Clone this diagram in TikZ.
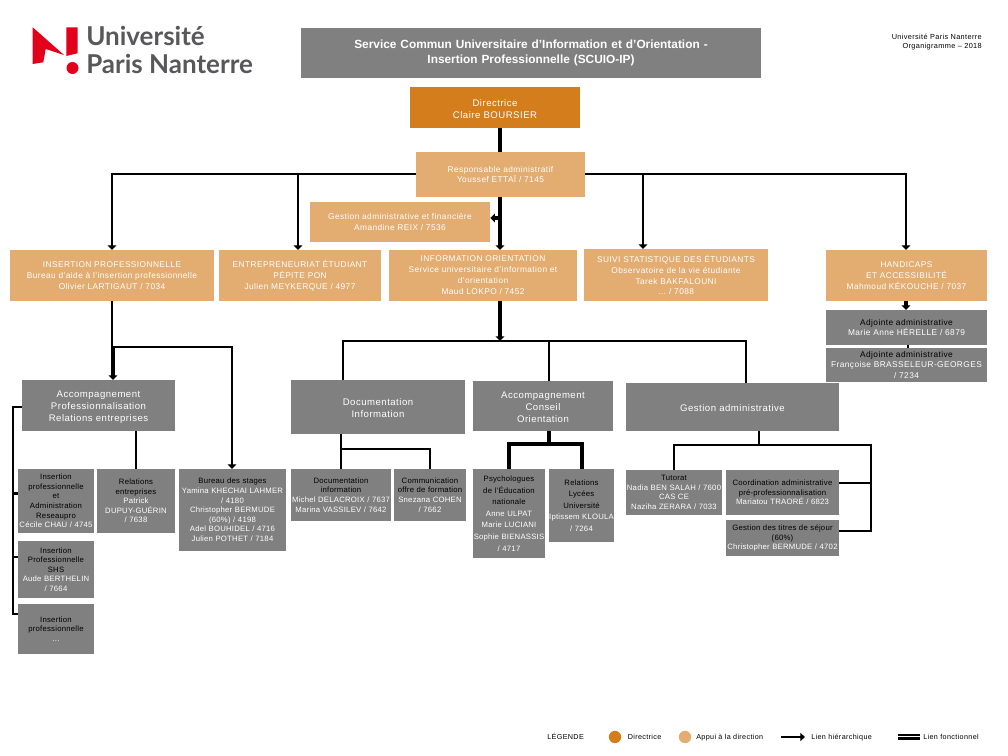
\documentclass[tikz,border=0pt]{standalone}
\usepackage{fontspec}
\setmainfont{Liberation Sans}
\newfontfamily\logofont{Lato}
\newfontfamily\espace[LetterSpace=5]{Liberation Sans}
\newfontfamily\espetit[LetterSpace=3]{Liberation Sans}
\usetikzlibrary{arrows.meta}
\definecolor{gris}{HTML}{808080}
\definecolor{orfonce}{HTML}{D37D1C}
\definecolor{orclair}{HTML}{E3AC70}
\definecolor{rouge}{HTML}{E2001A}
\definecolor{logogris}{HTML}{58585A}
\newcommand{\nr}[1]{\textcolor{black}{#1}}
\tikzset{
  x=0.75pt,y=-0.75pt,
  boxn/.style={draw=none,align=center,inner sep=0pt,font=\espace\fontsize{6.25}{8.2}\selectfont,text=white},
  grisbox/.style={boxn,fill=gris},
  clairbox/.style={boxn,fill=orclair},
  fonbox/.style={boxn,fill=orfonce},
  smalltext/.style={font=\espetit\fontsize{5.8}{7.2}\selectfont},
  spacedtext/.style={font=\espetit\fontsize{5.8}{8.7}\selectfont},
  midtext/.style={font=\espace\fontsize{7.2}{9}\selectfont,execute at begin node={\rule{0pt}{7.4pt}}},
  lien/.style={draw=black,line width=1.7pt,line cap=butt,line join=miter},
  lienfort/.style={draw=black,line width=2.5pt},
  fleche/.style={lien,-{Triangle[length=3.5pt,width=6.5pt]}},
  flechefort/.style={lienfort,-{Triangle[length=3.5pt,width=6.5pt]}},
  legendtext/.style={inner sep=0pt,anchor=base west,font=\espace\fontsize{5.4}{6}\selectfont,text=black},
}
\newcommand{\boxat}[7]{% name,x1,y1,x2,y2,style,text
  \pgfmathsetmacro{\bcx}{(#2+#4)/2}\pgfmathsetmacro{\bcy}{(#3+#5)/2}
  \pgfmathsetmacro{\bw}{(#4-#2)*0.75}\pgfmathsetmacro{\bh}{(#5-#3)*0.75}
  \node[#6,minimum width=\bw pt,minimum height=\bh pt,text width=\bw pt] (#1) at (\bcx,\bcy) {#7};
}
\begin{document}
\begin{tikzpicture}
\useasboundingbox (0,0) rectangle (1008,756);
% logo
\fill[rouge] (32.7,27.3) -- (64,55) -- (45.7,49) -- (43.3,62.3) -- (32.7,64) -- cycle;
\fill[rouge] (66.3,27.3) -- (77.5,27.3) -- (77.5,53.3) -- (66.3,56) -- cycle;
\fill[rouge] (72.5,68) circle (6);
\node[inner sep=0pt,anchor=base west,text=logogris,font=\logofont\bfseries\fontsize{19.5}{19.5}\selectfont] (logoa) at (86,46) {Université};
\node[inner sep=0pt,anchor=base west,text=logogris,font=\logofont\bfseries\fontsize{19.5}{19.5}\selectfont] (logob) at (86,74) {Paris Nanterre};
% top right
\node[inner sep=0pt,anchor=north east,align=right,font=\espace\fontsize{5.5}{6.9}\selectfont] (entete) at (982,34) {Université Paris Nanterre\\Organigramme – 2018};
% boxes
\boxat{titre}{301}{28}{761}{78}{grisbox,font=\bfseries\fontsize{8.9}{11.3}\selectfont}{Service Commun Universitaire d’Information et d’Orientation -\\Insertion Professionnelle (SCUIO-IP)}
\boxat{dir}{410}{87}{580}{128}{fonbox,midtext}{Directrice\\Claire BOURSIER}
\boxat{resp}{416}{152}{585}{197}{clairbox}{Responsable administratif\\Youssef ETTAÏ / 7145}
\boxat{gest}{310}{202}{490}{242}{clairbox}{Gestion administrative et financière\\Amandine REIX / 7536}
\boxat{ins}{10}{250}{214}{301}{clairbox}{INSERTION PROFESSIONNELLE\\Bureau d’aide à l’insertion professionnelle\\Olivier LARTIGAUT / 7034}
\boxat{ent}{219}{250}{381}{301}{clairbox}{ENTREPRENEURIAT ÉTUDIANT\\PÉPITE PON\\Julien MEYKERQUE / 4977}
\boxat{inf}{389}{250}{577}{301}{clairbox}{INFORMATION ORIENTATION\\Service universitaire d’information et\\d’orientation\\Maud LOKPO / 7452}
\boxat{sui}{584}{249}{768}{301}{clairbox}{SUIVI STATISTIQUE DES ÉTUDIANTS\\Observatoire de la vie étudiante\\Tarek BAKFALOUNI\\… / 7088}
\boxat{han}{826}{250}{987}{301}{clairbox}{HANDICAPS\\ET ACCESSIBILITÉ\\Mahmoud KÉKOUCHE / 7037}
\boxat{adja}{826}{310}{987}{345}{grisbox}{\nr{Adjointe administrative}\\Marie Anne HÉRELLE / 6879}
\boxat{adjb}{826}{348}{987}{382}{grisbox}{\nr{Adjointe administrative}\\Françoise BRASSELEUR-GEORGES\\/ 7234}
\boxat{acca}{22}{380}{175}{431}{grisbox,midtext}{Accompagnement\\Professionnalisation\\Relations entreprises}
\boxat{doc}{291}{380}{465}{434}{grisbox,midtext}{Documentation\\Information}
\boxat{accb}{473}{381}{613}{431}{grisbox,midtext}{Accompagnement\\Conseil\\Orientation}
\boxat{gad}{626}{383}{839}{431}{grisbox,midtext}{Gestion administrative}
\boxat{insa}{18}{469}{94}{533}{grisbox,smalltext}{\nr{Insertion}\\\nr{professionnelle}\\\nr{et}\\\nr{Administration}\\\nr{Reseaupro}\\Cécile CHAU / 4745}
\boxat{rel}{97}{469}{175}{533}{grisbox,smalltext}{\nr{Relations}\\\nr{entreprises}\\Patrick\\DUPUY-GUÉRIN\\/ 7638}
\boxat{bur}{179}{469}{286}{551}{grisbox,smalltext}{\nr{Bureau des stages}\\Yamina KHECHAI LAHMER\\/ 4180\\Christopher BERMUDE\\(60\%) / 4198\\Adel BOUHIDEL / 4716\\Julien POTHET / 7184}
\boxat{insb}{18}{541}{94}{598}{grisbox,smalltext}{\nr{Insertion}\\\nr{Professionnelle}\\\nr{SHS}\\Aude BERTHELIN\\/ 7664}
\boxat{insc}{18}{604}{94}{654}{grisbox,smalltext}{\nr{Insertion}\\\nr{professionnelle}\\…}
\boxat{doca}{291}{469}{391}{521}{grisbox,smalltext}{\nr{Documentation}\\\nr{information}\\Michel DELACROIX / 7637\\Marina VASSILEV / 7642}
\boxat{com}{394}{469}{466}{521}{grisbox,smalltext}{\nr{Communication}\\\nr{offre de formation}\\Snezana COHEN\\/ 7662}
\boxat{psy}{473}{469}{545}{558}{grisbox,spacedtext}{\nr{Psychologues}\\\nr{de l’Éducation}\\\nr{nationale}\\Anne ULPAT\\Marie LUCIANI\\Sophie BIENASSIS\\/ 4717}
\boxat{lyc}{549}{469}{614}{542}{grisbox,spacedtext}{\nr{Relations}\\\nr{Lycées}\\\nr{Université}\\Iptissem KLOULA\\/ 7264}
\boxat{tut}{626}{470}{722}{515}{grisbox,smalltext}{\nr{Tutorat}\\Nadia BEN SALAH / 7600\\CAS CE\\Naziha ZERARA / 7033}
\boxat{coo}{726}{470}{839}{515}{grisbox,smalltext}{\nr{Coordination administrative}\\\nr{pré-professionnalisation}\\Mariatou TRAORÉ / 6823}
\boxat{tit}{726}{520}{839}{556}{grisbox,smalltext}{\nr{Gestion des titres de séjour}\\\nr{(60\%)}\\Christopher BERMUDE / 4702}
% direction
\draw[lienfort] (500,128) -- (500,152);
\draw[flechefort] (500,197) -- (500,250);
\draw[flechefort] (500,218) -- (gest.east |- 0,218);
\draw[fleche] (resp.west |- 0,174) -| (112,250);
\draw[fleche] (298,174) -- (298,250);
\draw[fleche] (resp.east |- 0,174) -| (906,250);
\draw[fleche] (643,174) -- (643,249);
% insertion
\draw[lien] (112,301) -- (112,347);
\draw[flechefort] (113,347) -- (113,380);
\draw[fleche] (112,347) -| (232,469);
\draw[lien] (acca.west |- 0,407) -| (13,614) -- (insc.west |- 0,614);
\draw[lien] (13,493.5) -- (insa.west |- 0,493.5);
\draw[lien] (13,557) -- (insb.west |- 0,557);
\draw[lien] (136,431) -- (136,469);
% information
\draw[flechefort] (500,301) -- (500,341);
\draw[lien] (343,380) |- (746,341) -- (746,383);
\draw[lien] (549,341) -- (549,381);
\draw[lien] (341,434) -- (341,469);
\draw[lien] (341,449) -| (430,469);
\draw[lienfort] (549,431) -- (549,444);
\draw[lienfort] (509,469) |- (582,444) -- (582,469);
% gestion
\draw[lien] (759,431) -- (759,445);
\draw[lien] (674,470) |- (871,445) |- (tit.east |- 0,531);
\draw[lien] (871,483) -- (coo.east |- 0,483);
% handicaps
\draw[flechefort] (906,301) -- (906,310);
\draw[lien] (908,345) -- (908,348);
% legend
\node[legendtext] (lega) at (547,739.5) {LÉGENDE};
\fill[orfonce] (615,737) circle (6.2);
\node[legendtext] (legb) at (627.5,739.5) {Directrice};
\fill[orclair] (685,737) circle (6.2);
\node[legendtext] (legc) at (696,739.5) {Appui à la direction};
\coordinate (legd) at (781,737);
\coordinate (lege) at (805,737);
\draw[lien,-{Triangle[length=3.5pt,width=6pt]}] (legd) -- (lege);
\node[legendtext] (legf) at (811,739.5) {Lien hiérarchique};
\fill[black] (898,733.5) rectangle (920,735.5);
\fill[black] (898,737) rectangle (920,739.5);
\node[legendtext] (legg) at (923,739.5) {Lien fonctionnel};
\end{tikzpicture}
\end{document}
